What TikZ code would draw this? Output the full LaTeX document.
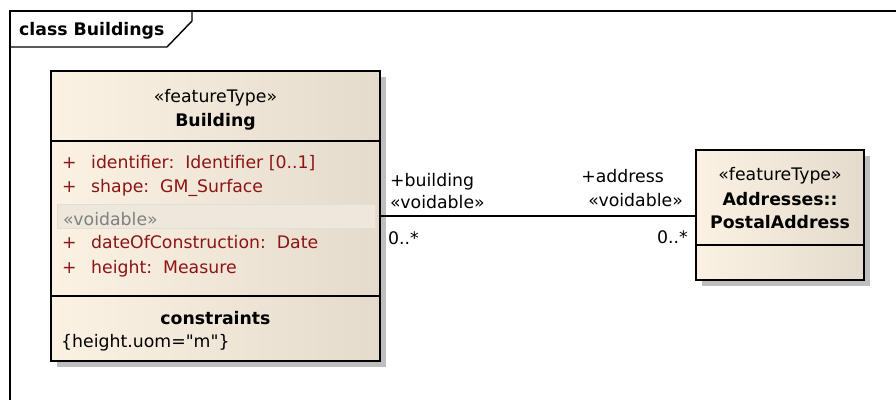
\documentclass[tikz,border=0pt]{standalone}
\usepackage{fontspec}
\setmainfont{DejaVu Sans}[Ligatures=TeXOff]
\definecolor{attr}{RGB}{140,20,20}
\definecolor{boxl}{RGB}{251,242,228}
\definecolor{boxr}{RGB}{228,219,204}
\definecolor{shad}{RGB}{190,190,190}
\definecolor{vband}{RGB}{238,231,220}
\definecolor{vline}{RGB}{228,221,210}
\definecolor{vtext}{RGB}{128,128,128}
\newcommand{\fsz}{\fontsize{17.3}{20}\selectfont}
\tikzset{
  classbox/.style={draw=black, line width=1.6pt, left color=boxl, right color=boxr, shading angle=90},
  sep/.style={draw=black, line width=1.4pt},
  txt/.style={inner sep=0pt, anchor=base west, font=\fsz},
  ctxt/.style={inner sep=0pt, anchor=base, font=\fsz},
  btxt/.style={inner sep=0pt, anchor=base, font=\fsz\bfseries},
  atxt/.style={txt, text=attr},
  rtxt/.style={inner sep=0pt, anchor=base east, font=\fsz},
  assoc/.style={draw=black, line width=1.4pt},
}
\begin{document}
\begin{tikzpicture}[x=1pt,y=-1pt]
\useasboundingbox (0,0) rectangle (896,399);
% frame
\begin{scope}
\clip (0,0) rectangle (896,399);
\draw[line width=1.4pt] (10,410) -- (10,11) -- (910,11);
\end{scope}
\draw[line width=1.4pt] (10,47) -- (167,47) -- (192,21) -- (192,11);
\node[inner sep=0pt, anchor=base west, font=\fsz\bfseries] (title) at (19,35) {class Buildings};

% Building class
\fill[shad] (57,77) rectangle (386,367);
\path[classbox] (51,71) rectangle (380,361);
\draw[sep] (51,141) -- (380,141);
\draw[sep] (51,296) -- (380,296);
\fill[vband] (57,204) rectangle (375,228);
\draw[draw=vline, line width=0.8pt] (57,204) rectangle (375,228);
\node[ctxt] (bst) at (215.5,102) {«featureType»};
\node[btxt] (bname) at (215.5,126) {Building};
\node[atxt] (p1) at (62,168) {+};
\node[atxt] (a1) at (91,168) {identifier:\ \ Identifier [0..1]};
\node[atxt] (p2) at (62,192) {+};
\node[atxt] (a2) at (91,192) {shape:\ \ GM\_Surface};
\node[txt, text=vtext] (vd) at (63,225) {«voidable»};
\node[atxt] (p3) at (62,248) {+};
\node[atxt] (a3) at (91,248) {dateOfConstruction:\ \ Date};
\node[atxt] (p4) at (62,273) {+};
\node[atxt] (a4) at (91,273) {height:\ \ Measure};
\node[btxt] (cons) at (215.5,324) {constraints};
\node[txt] (cval) at (61,347) {\{height.uom="m"\}};

% PostalAddress class
\fill[shad] (702,156) rectangle (870,286);
\path[classbox] (696,150) rectangle (864,280);
\draw[sep] (696,245) -- (864,245);
\node[ctxt] (pst) at (780,180) {«featureType»};
\node[btxt] (pn1) at (780,205) {Addresses::};
\node[btxt] (pn2) at (780,228) {PostalAddress};

% association
\coordinate (aL) at (380,216);
\coordinate (aR) at (696,216);
\draw[assoc] (aL) -- (aR);
\node[txt] (rb) at (390,186) {+building};
\node[txt] (rbv) at (390,208) {«voidable»};
\node[txt] (mb) at (388,244) {0..*};
\node[rtxt] (ra) at (664,182) {+address};
\node[rtxt] (rav) at (683,206) {«voidable»};
\node[rtxt] (ma) at (688,243) {0..*};
\end{tikzpicture}
\end{document}
